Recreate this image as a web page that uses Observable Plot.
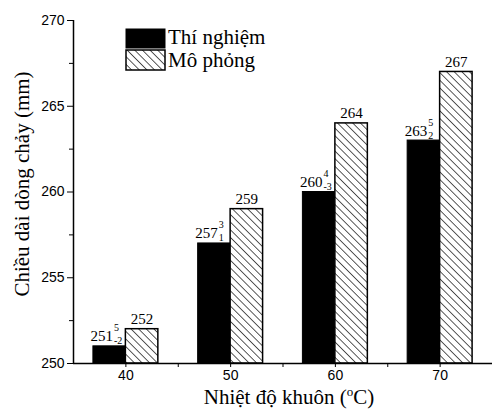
<!DOCTYPE html>
<html>
<head>
<meta charset="utf-8">
<script src="https://cdn.jsdelivr.net/npm/d3@7"></script>
<script src="https://cdn.jsdelivr.net/npm/@observablehq/plot@0.6"></script>
<style>
  html, body { margin: 0; padding: 0; background: #fff; }
  svg { display: block; }
</style>
</head>
<body>
<div id="chart"></div>
<script>
// ---- data ----
const temps = [40, 50, 60, 70];
const experiment = [251, 257, 260, 263];
const simulation = [252, 259, 264, 267];
const expUpper = ["5", "3", "4", "5"];
const expLower = ["-2", "1", "-3", "2"];
const yTicks = [250, 255, 260, 265, 270];
const yMinorTicks = [252.5, 257.5, 262.5, 267.5];
const xTicks = [40, 50, 60, 70];
const xMinorTicks = [45, 55, 65];
const seriesNames = ["Thí nghiệm", "Mô phỏng"];
const yTitle = "Chiều dài dòng chảy (mm)";
const xTitleMain = "Nhiệt độ khuôn (";
const xTitleSup = "o";
const xTitleEnd = "C)";

const barW = 3.1;
const expData = temps.map((t, i) => ({t, v: experiment[i], up: expUpper[i], lo: expLower[i]}));
const simData = temps.map((t, i) => ({t, v: simulation[i]}));

const serif = "Liberation Serif, DejaVu Serif, serif";
const sans = "Liberation Sans, Arial, sans-serif";

const chart = Plot.plot({
  width: 492,
  height: 410,
  marginLeft: 73,
  marginRight: 0,
  marginTop: 20,
  marginBottom: 47,
  style: {background: "white", color: "black"},
  x: {domain: [35, 75], axis: null},
  y: {domain: [250, 270], axis: null},
  marks: [
    Plot.rect(expData, {x1: d => d.t - barW, x2: "t", y1: () => 250, y2: "v", fill: "black", stroke: "black", strokeWidth: 1}),
    Plot.rect(simData, {x1: "t", x2: d => d.t + barW, y1: () => 250, y2: "v", fill: "url(#hatch)", stroke: "black", strokeWidth: 1.5}),
    // value labels
    Plot.text(simData, {x: d => d.t + barW / 2, y: "v", text: d => String(d.v), lineAnchor: "bottom", dy: -5, fontSize: 15, fontFamily: serif, fill: "black"}),
    Plot.text(expData, {x: "t", y: "v", text: d => String(d.v), textAnchor: "end", lineAnchor: "bottom", dx: -13, dy: -5, fontSize: 15, fontFamily: serif, fill: "black"}),
    Plot.text(expData, {x: "t", y: "v", text: "up", textAnchor: "start", lineAnchor: "bottom", dx: -12, dy: -15, fontSize: 10, fontFamily: serif, fill: "black"}),
    Plot.text(expData, {x: "t", y: "v", text: "lo", textAnchor: "start", lineAnchor: "bottom", dx: -12, dy: -2, fontSize: 10, fontFamily: serif, fill: "black"}),
    // axes
    Plot.axisY({ticks: yTicks, tickSize: 6, tickPadding: 3, fontSize: 14, fontFamily: sans, label: null, tickFormat: d => String(d)}),
    Plot.axisY({ticks: yMinorTicks, tickSize: 4, text: null, label: null}),
    Plot.axisX({ticks: xTicks, tickSize: 4, tickPadding: 3, fontSize: 14, fontFamily: sans, label: null, tickFormat: d => String(d)}),
    Plot.axisX({ticks: xMinorTicks, tickSize: 4, text: null, label: null}),
    Plot.ruleX([35], {stroke: "black", strokeWidth: 1.5}),
    Plot.ruleY([250], {stroke: "black", strokeWidth: 1.5})
  ]
});

document.getElementById("chart").appendChild(chart);

const svg = d3.select(chart);
svg.insert("defs", ":first-child").html(
  `<pattern id="hatch" patternUnits="userSpaceOnUse" width="5.4" height="5.4" patternTransform="rotate(-45)">
     <rect width="5.4" height="5.4" fill="white"/>
     <line x1="0" y1="0" x2="0" y2="5.4" stroke="black" stroke-width="1.3"/>
   </pattern>`
);

// legend
const leg = svg.append("g").attr("text-anchor", "start");
leg.append("rect").attr("x", 126).attr("y", 29).attr("width", 39).attr("height", 19).attr("fill", "black").attr("stroke", "black");
leg.append("rect").attr("x", 126).attr("y", 50).attr("width", 39).attr("height", 20).attr("fill", "url(#hatch)").attr("stroke", "black").attr("stroke-width", 1.5);
leg.append("text").attr("x", 168).attr("y", 44).attr("text-anchor", "start").style("font-family", serif).style("font-size", "21px").text(seriesNames[0]);
leg.append("text").attr("x", 168).attr("y", 67).attr("text-anchor", "start").style("font-family", serif).style("font-size", "21px").text(seriesNames[1]);

// axis titles
svg.append("text")
  .attr("transform", "translate(29,184) rotate(-90)")
  .attr("text-anchor", "middle")
  .style("font-family", serif).style("font-size", "21px")
  .text(yTitle);

const xt = svg.append("text")
  .attr("x", 289).attr("y", 404)
  .attr("text-anchor", "middle")
  .style("font-family", serif).style("font-size", "21px");
xt.append("tspan").text(xTitleMain);
xt.append("tspan").style("font-size", "13px").attr("dy", -8).text(xTitleSup);
xt.append("tspan").attr("dy", 8).text(xTitleEnd);
</script>
</body>
</html>
